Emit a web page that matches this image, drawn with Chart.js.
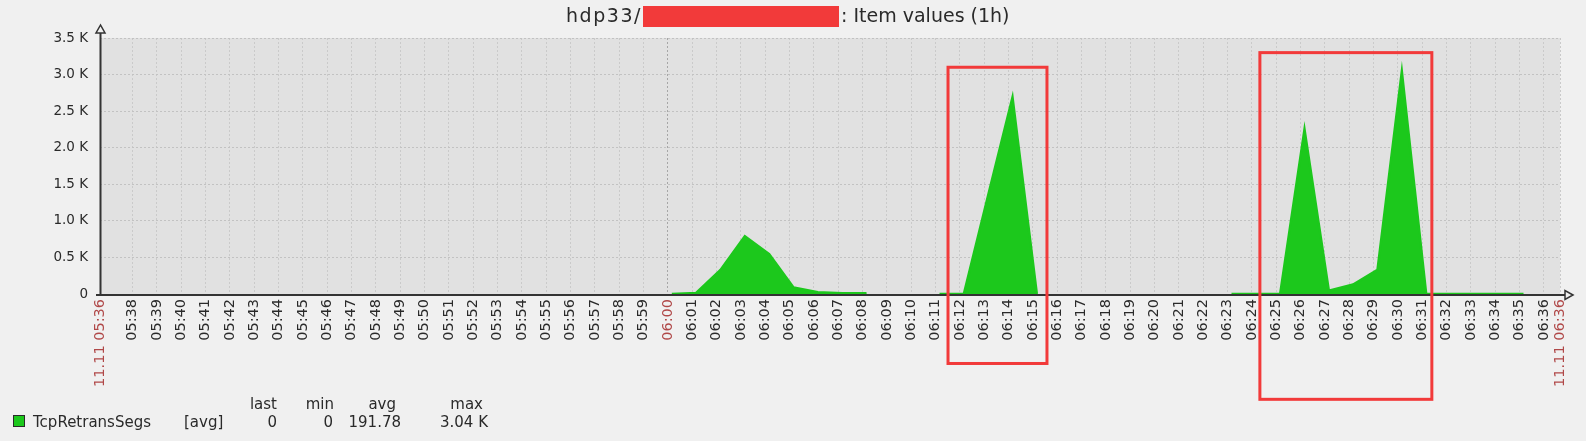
<!DOCTYPE html>
<html>
<head>
<meta charset="utf-8">
<script src="https://cdn.jsdelivr.net/npm/chart.js@4.4.1/dist/chart.umd.min.js"></script>
<style>
html,body{margin:0;padding:0;background:#f0f0f0;overflow:hidden;}
canvas{display:block;}
</style>
</head>
<body>
<canvas id="chart" width="1586" height="441"></canvas>
<script>
// ---------- data ----------
const TITLE_HOST = 'hdp33/';
const TITLE_REST = ': Item values (1h)';
const RANGE_START = '05:36:40';
const RANGE_END = '06:36:40';
const DATE_PREFIX = '11.11';
const HIGHLIGHT_TICK = '06:00';
const MINUTE_TICKS = [
  '05:38','05:39','05:40','05:41','05:42','05:43','05:44','05:45','05:46','05:47','05:48','05:49',
  '05:50','05:51','05:52','05:53','05:54','05:55','05:56','05:57','05:58','05:59',
  '06:00','06:01','06:02','06:03','06:04','06:05','06:06','06:07','06:08','06:09','06:10','06:11',
  '06:12','06:13','06:14','06:15','06:16','06:17','06:18','06:19','06:20','06:21','06:22','06:23',
  '06:24','06:25','06:26','06:27','06:28','06:29','06:30','06:31','06:32','06:33','06:34','06:35','06:36'
];
const SAMPLE_TIMES = [
  '06:00:10','06:01:10','06:02:10','06:03:10','06:04:10','06:05:10','06:06:10','06:07:10','06:08:10',
  '06:09:10','06:10:10',
  '06:11:10','06:12:10','06:13:10','06:14:10','06:15:10',
  '06:16:10','06:17:10','06:18:10','06:19:10','06:20:10','06:21:10','06:22:10',
  '06:23:10','06:24:10','06:25:10','06:26:10','06:27:10','06:28:10','06:29:10','06:30:10','06:31:10',
  '06:32:10','06:33:10','06:34:10','06:35:10'
];
const SAMPLE_VALUES = [
  0, 15, 330, 790, 545, 90, 25, 10, 10,
  null, null,
  0, 0, 1350, 2690, 0,
  null, null, null, null, null, null, null,
  0, 0, 0, 2250, 45, 130, 330, 3040, 0,
  0, 0, 0, 0
];
const Y_MIN = 0, Y_MAX = 3500, Y_STEP = 250, Y_LABEL_STEP = 500;
const SERIES_NAME = 'TcpRetransSegs';
const SERIES_FUNC = '[avg]';
const STAT_NAMES = ['last', 'min', 'avg', 'max'];
const STAT_VALUES = ['0', '0', '191.78', '3.04 K'];
const MARK_FROM = ['06:11:31', '06:24:20'];
const MARK_TO = ['06:15:35', '06:31:24'];
const MARK_TOP = [3100, 3300];
const MARK_BOTTOM = [-950, -1440];

// ---------- style ----------
const C = {
  bg: '#f0f0f0', plot: '#e1e1e1', grid: '#cacaca', gridY: '#c2c2c2', gridMain: '#a6a6a6',
  axis: '#333333', text: '#2a2a2a', highlight: '#b04848', series: '#1cc81c', mark: '#f23a3a'
};
const FONT = '"DejaVu Sans", "Liberation Sans", sans-serif';

const toSec = t => { const p = t.split(':').map(Number); return p[0] * 3600 + p[1] * 60 + (p[2] || 0); };
const xMin = toSec(RANGE_START), xMax = toSec(RANGE_END);
const tickDefs = [{ v: xMin, label: DATE_PREFIX + ' ' + RANGE_START.slice(0, 5), hl: true }]
  .concat(MINUTE_TICKS.map(m => ({ v: toSec(m), label: m, hl: m === HIGHLIGHT_TICK })))
  .concat([{ v: xMax, label: DATE_PREFIX + ' ' + RANGE_END.slice(0, 5), hl: true }]);
const tickMap = new Map(tickDefs.map(d => [d.v, d]));
const fmtY = v => v === 0 ? '0' : (v / 1000).toFixed(1) + ' K';

const bgPlugin = {
  id: 'bg',
  beforeDraw(chart) {
    const { ctx, chartArea: a } = chart;
    ctx.save();
    ctx.fillStyle = C.bg;
    ctx.fillRect(0, 0, chart.width, chart.height);
    ctx.fillStyle = C.plot;
    ctx.fillRect(a.left, a.top, a.right - a.left, a.bottom - a.top);
    ctx.restore();
  }
};

const overlayPlugin = {
  id: 'overlay',
  afterDatasetsDraw(chart) {
    const { ctx, chartArea: a, scales } = chart;
    const y0 = Math.round(scales.y.getPixelForValue(0)) + 1;
    const x0 = Math.round(a.left) + 0.5;
    ctx.save();
    ctx.strokeStyle = C.axis;
    ctx.lineWidth = 2;
    ctx.beginPath();
    ctx.moveTo(a.left - 4, y0); ctx.lineTo(a.right + 6, y0);
    ctx.moveTo(x0, y0); ctx.lineTo(x0, a.top - 5);
    ctx.stroke();
    ctx.lineWidth = 1.5;
    ctx.fillStyle = C.bg;
    ctx.beginPath();
    ctx.moveTo(a.right + 13, y0); ctx.lineTo(a.right + 5, y0 - 4.5); ctx.lineTo(a.right + 5, y0 + 4.5); ctx.closePath();
    ctx.fill(); ctx.stroke();
    ctx.beginPath();
    ctx.moveTo(x0, a.top - 13); ctx.lineTo(x0 - 4.5, a.top - 5); ctx.lineTo(x0 + 4.5, a.top - 5); ctx.closePath();
    ctx.fill(); ctx.stroke();
    ctx.restore();
  },
  afterDraw(chart) {
    const { ctx, scales } = chart;
    ctx.save();
    // title
    ctx.font = '19px ' + FONT;
    ctx.fillStyle = C.text;
    ctx.textBaseline = 'alphabetic';
    ctx.textAlign = 'left';
    const hostW = ctx.measureText(TITLE_HOST).width;
    if ('letterSpacing' in ctx) ctx.letterSpacing = Math.max(0, (76 - hostW) / TITLE_HOST.length) + 'px';
    ctx.fillText(TITLE_HOST, 566, 22);
    if ('letterSpacing' in ctx) ctx.letterSpacing = '0px';
    ctx.fillText(TITLE_REST, 841, 22);
    ctx.fillStyle = C.mark;
    ctx.fillRect(643, 6, 196, 21);
    // highlight boxes (in data coordinates)
    ctx.strokeStyle = C.mark;
    ctx.lineWidth = 3;
    for (let i = 0; i < MARK_FROM.length; i++) {
      const l = scales.x.getPixelForValue(toSec(MARK_FROM[i]));
      const r = scales.x.getPixelForValue(toSec(MARK_TO[i]));
      const t = scales.y.getPixelForValue(MARK_TOP[i]);
      const b = scales.y.getPixelForValue(MARK_BOTTOM[i]);
      ctx.strokeRect(l, t, r - l, b - t);
    }
    // legend
    ctx.fillStyle = C.series;
    ctx.fillRect(13, 415, 12, 12);
    ctx.strokeStyle = '#2a2a2a';
    ctx.lineWidth = 1;
    ctx.strokeRect(13.5, 415.5, 11, 11);
    ctx.fillStyle = C.text;
    ctx.font = '15px ' + FONT;
    ctx.fillText(SERIES_NAME, 33, 427);
    ctx.fillText(SERIES_FUNC, 184, 427);
    ctx.textAlign = 'right';
    const hdrRight = [277, 334, 396, 483];
    const valRight = [277, 333, 401, 488];
    STAT_NAMES.forEach((s, i) => ctx.fillText(s, hdrRight[i], 409));
    STAT_VALUES.forEach((s, i) => ctx.fillText(s, valRight[i], 427));
    ctx.restore();
  }
};

new Chart(document.getElementById('chart'), {
  type: 'line',
  data: {
    datasets: [{
      label: SERIES_NAME,
      data: SAMPLE_TIMES.map((t, i) => ({ x: toSec(t), y: SAMPLE_VALUES[i] })),
      borderColor: C.series,
      backgroundColor: C.series,
      borderWidth: 2.5,
      fill: 'origin',
      pointRadius: 0,
      tension: 0,
      spanGaps: false
    }]
  },
  options: {
    responsive: false,
    animation: false,
    devicePixelRatio: 1,
    layout: { padding: { left: 0, right: 26, top: 38, bottom: 0 } },
    plugins: { legend: { display: false }, title: { display: false }, tooltip: { enabled: false } },
    scales: {
      x: {
        type: 'linear', min: xMin, max: xMax,
        afterBuildTicks: s => { s.ticks = tickDefs.map(d => ({ value: d.v })); },
        afterFit: s => { s.height = 147; },
        ticks: {
          autoSkip: false, maxRotation: 90, minRotation: 90, padding: 5,
          font: { family: FONT, size: 14.5 },
          color: c => (c.tick && tickMap.get(c.tick.value) && tickMap.get(c.tick.value).hl) ? C.highlight : C.text,
          callback: v => (tickMap.get(v) || { label: '' }).label
        },
        grid: {
          drawTicks: false, lineWidth: 1,
          color: c => (c.tick && tickMap.get(c.tick.value) && tickMap.get(c.tick.value).label === HIGHLIGHT_TICK) ? C.gridMain : C.grid
        },
        border: { display: false, dash: [2, 2] }
      },
      y: {
        min: Y_MIN, max: Y_MAX,
        afterBuildTicks: s => { const t = []; for (let v = Y_MIN; v <= Y_MAX; v += Y_STEP) t.push({ value: v }); s.ticks = t; },
        afterFit: s => { s.width = 100; },
        ticks: {
          padding: 12, font: { family: FONT, size: 13.5 }, color: C.text,
          callback: v => (v % Y_LABEL_STEP === 0 ? fmtY(v) : '')
        },
        grid: { drawTicks: false, lineWidth: 1, color: C.gridY },
        border: { display: false, dash: [2, 2] }
      }
    }
  },
  plugins: [bgPlugin, overlayPlugin]
});
</script>
</body>
</html>
